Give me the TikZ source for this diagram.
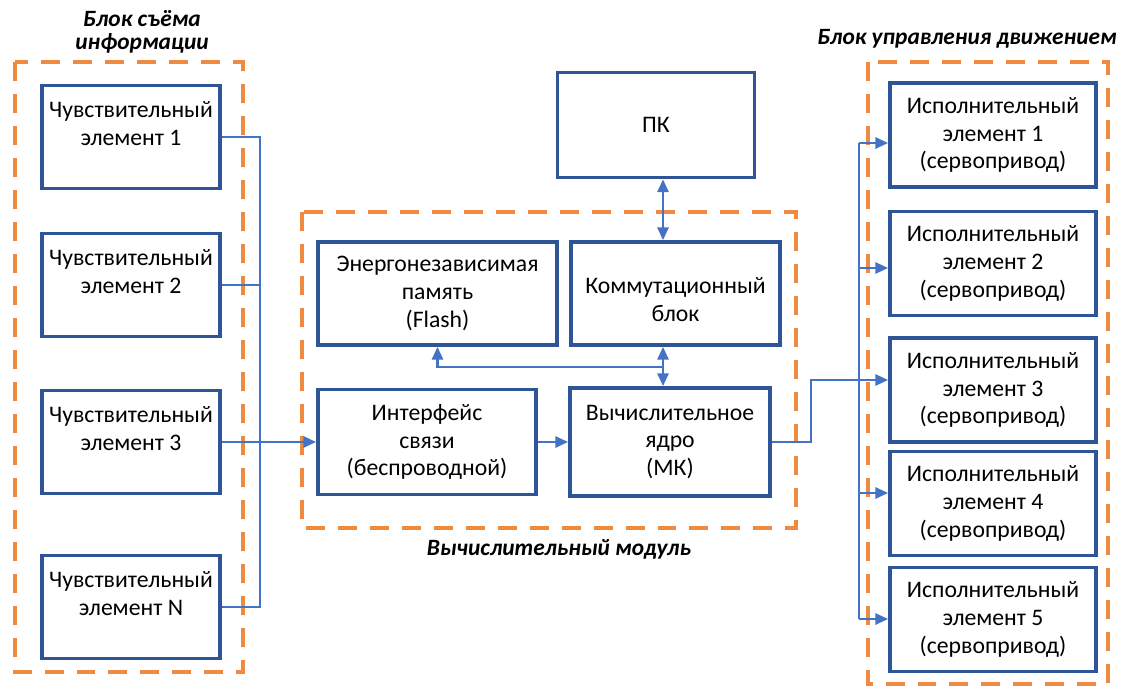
\documentclass[tikz,border=0pt]{standalone}
\usepackage{fontspec}
\setmainfont{Carlito}
\usetikzlibrary{arrows.meta}

\definecolor{boxblue}{HTML}{2F5597}
\definecolor{wireblue}{HTML}{4472C4}
\definecolor{dashorange}{HTML}{F08A40}

\tikzset{
  blk/.style={draw=boxblue, line width=2pt, fill=white, align=center, inner sep=0pt,
    font=\fontsize{13.5}{15.9}\selectfont},
  sens/.style={blk, minimum width=3.56cm, minimum height=2.06cm},
  act/.style={blk, minimum width=4.12cm, minimum height=2.08cm},
  wire/.style={draw=wireblue, line width=1.7pt},
  grp/.style={draw=dashorange, line width=2.6pt, dash pattern=on 10.8pt off 7.4pt},
  ttl/.style={font=\fontsize{13.3}{12.8}\selectfont\bfseries\itshape, align=center},
  >={Triangle[length=0.26cm,width=0.22cm]}
}

\begin{document}
\begin{tikzpicture}[x=0.02cm,y=-0.02cm]
\useasboundingbox (0,0) rectangle (1127,686);

% groups
\draw[grp] (15,62) rectangle (243,672);
\draw[grp] (302,212) rectangle (796,528);
\draw[grp] (868,62) rectangle (1108,684);

\node[ttl] (t1) at (142,32) {Блок съёма\\информации};
\node[ttl] (t2) at (967,39) {Блок управления движением};
\node[ttl] (t3) at (559,549) {Вычислительный модуль};

% sensors
\node[sens] (s1) at (131,137) {Чувствительный\\элемент 1\\\mbox{}};
\node[sens] (s2) at (131,285) {Чувствительный\\элемент 2\\\mbox{}};
\node[sens] (s3) at (131,442) {Чувствительный\\элемент 3\\\mbox{}};
\node[sens] (sN) at (131,607) {Чувствительный\\элемент N\\\mbox{}};

% module
\node[blk, minimum width=3.94cm, minimum height=2.1cm] (pk) at (656,125) {ПК};
\node[blk, minimum width=4.78cm, minimum height=2.06cm] (flash) at (437.5,293.5) {Энергонезависимая\\память\\(Flash)};
\node[blk, minimum width=4.18cm, minimum height=2.06cm] (kb) at (675.5,293.5) {\mbox{}\\Коммутационный\\блок};
\node[blk, minimum width=4.36cm, minimum height=2.1cm] (ifc) at (427,442) {Интерфейс\\связи\\(беспроводной)};
\node[blk, minimum width=4.0cm, minimum height=2.16cm] (mk) at (670,442) {Вычислительное\\ядро\\(МК)};

% actuators
\node[act] (ie1) at (993,135) {Исполнительный\\элемент 1\\(сервопривод)};
\node[act] (ie2) at (993,263.5) {Исполнительный\\элемент 2\\(сервопривод)};
\node[act] (ie3) at (993,390) {Исполнительный\\элемент 3\\(сервопривод)};
\node[act] (ie4) at (993,503.5) {Исполнительный\\элемент 4\\(сервопривод)};
\node[act] (ie5) at (993,619.5) {Исполнительный\\элемент 5\\(сервопривод)};

% left bus
\coordinate (lb1) at (260,137);
\coordinate (lb2) at (260,607);
\draw[wire] (s1.east) -- (lb1) -- (lb2) -- (sN.east);
\draw[wire] (s2.east) -- (s2.east -| lb1);
\draw[wire,->] (s3.east) -- (ifc.west);
\draw[wire,->] (ifc.east) -- (mk.west);

% inner links
\coordinate (mx) at (663,367);
\draw[wire,<->] (pk.south -| mx) -- (kb.north -| mx);
\draw[wire,<->] (kb.south -| mx) -- (mk.north -| mx);
\draw[wire,->] (mx) -| (flash.south);

% right bus
\coordinate (rb1) at (859,143);
\coordinate (rb2) at (859,268);
\coordinate (rb3) at (859,380);
\coordinate (rb4) at (859,493);
\coordinate (rb5) at (859,619);
\coordinate (mko) at (811,380);
\draw[wire] (rb1) -- (rb5);
\draw[wire] (mk.east) -| (mko) -- (rb3);
\draw[wire,->] (rb1) -- (rb1 -| ie1.west);
\draw[wire,->] (rb2) -- (rb2 -| ie2.west);
\draw[wire,->] (rb3) -- (rb3 -| ie3.west);
\draw[wire,->] (rb4) -- (rb4 -| ie4.west);
\draw[wire,->] (rb5) -- (rb5 -| ie5.west);

\end{tikzpicture}
\end{document}
